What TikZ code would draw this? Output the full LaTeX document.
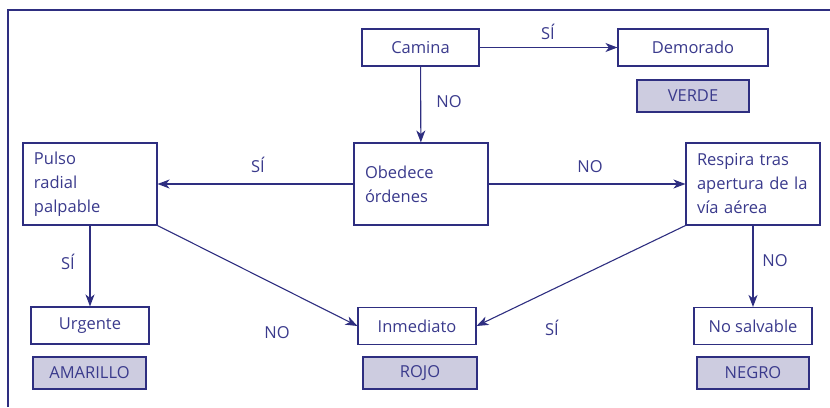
\documentclass[tikz,border=0pt]{standalone}
\usepackage{fontspec}
\setmainfont{Open Sans}
\usetikzlibrary{arrows.meta}
\definecolor{navy}{HTML}{2E2E80}
\definecolor{navytext}{HTML}{3A3A8C}
\definecolor{lav}{HTML}{CDCCE0}
\begin{document}
\begin{tikzpicture}[x=1pt,y=-1pt,
  every node/.style={font=\fontsize{16.5}{24}\selectfont, text=navytext},
  box/.style={draw=navy, line width=1.1pt, inner sep=0pt, minimum height=37},
  colbox/.style={box, fill=lav, minimum height=32},
  bigbox/.style={draw=navy, line width=1.1pt, minimum height=82, minimum width=134, inner xsep=11pt, inner ysep=0pt, text width=112, align=left},
  conn/.style={draw=navy, line width=1.1pt, -{Stealth[length=12pt,width=9pt,inset=3.5pt]}},
  lbl/.style={inner sep=0pt}
]
\useasboundingbox (0,0) rectangle (830,407);
\draw[navy, line width=2.4pt] (8,407) -- (8,10) -- (830,10);

\node[box, minimum width=117] (camina) at (420.5,47.5) {Camina};
\node[box, minimum width=150] (demorado) at (693,47.5) {Demorado};
\node[colbox, minimum width=112] (verde) at (693,96) {VERDE};
\node[bigbox] (obedece) at (421,184) {Obedece\\órdenes};
\node[bigbox] (pulso) at (90,184) {Pulso\\radial\\palpable};
\node[bigbox] (respira) at (753,184) {\mbox{Respira tras}\\\mbox{apertura de la}\\\mbox{vía aérea}};
\node[box, minimum width=118] (urgente) at (90,325.5) {Urgente};
\node[colbox, minimum width=113] (amarillo) at (89.5,373) {AMARILLO};
\node[box, minimum width=118] (inmediato) at (417,326) {Inmediato};
\node[colbox, minimum width=114] (rojo) at (420,373) {ROJO};
\node[box, minimum width=118] (nosalv) at (753,326) {No salvable};
\node[colbox, minimum width=112] (negro) at (753,373) {NEGRO};

\draw[conn] (camina) -- (demorado);
\draw[conn] (camina) -- (obedece);
\draw[conn] (obedece) -- (pulso);
\draw[conn] (obedece) -- (respira);
\draw[conn] (pulso.south) -- (urgente.north);
\draw[conn] (pulso.south east) -- (inmediato.west);
\draw[conn] (respira.south west) -- (inmediato.east);
\draw[conn] (respira.south) -- (nosalv.north);

\node[lbl] (l1) at (548,32) {SÍ};
\node[lbl] (l2) at (449,102) {NO};
\node[lbl] (l3) at (258,165) {SÍ};
\node[lbl] (l4) at (590,167) {NO};
\node[lbl] (l5) at (68,262) {SÍ};
\node[lbl] (l6) at (277,333) {NO};
\node[lbl] (l7) at (552,328) {SÍ};
\node[lbl] (l8) at (775,261) {NO};
\end{tikzpicture}
\end{document}
